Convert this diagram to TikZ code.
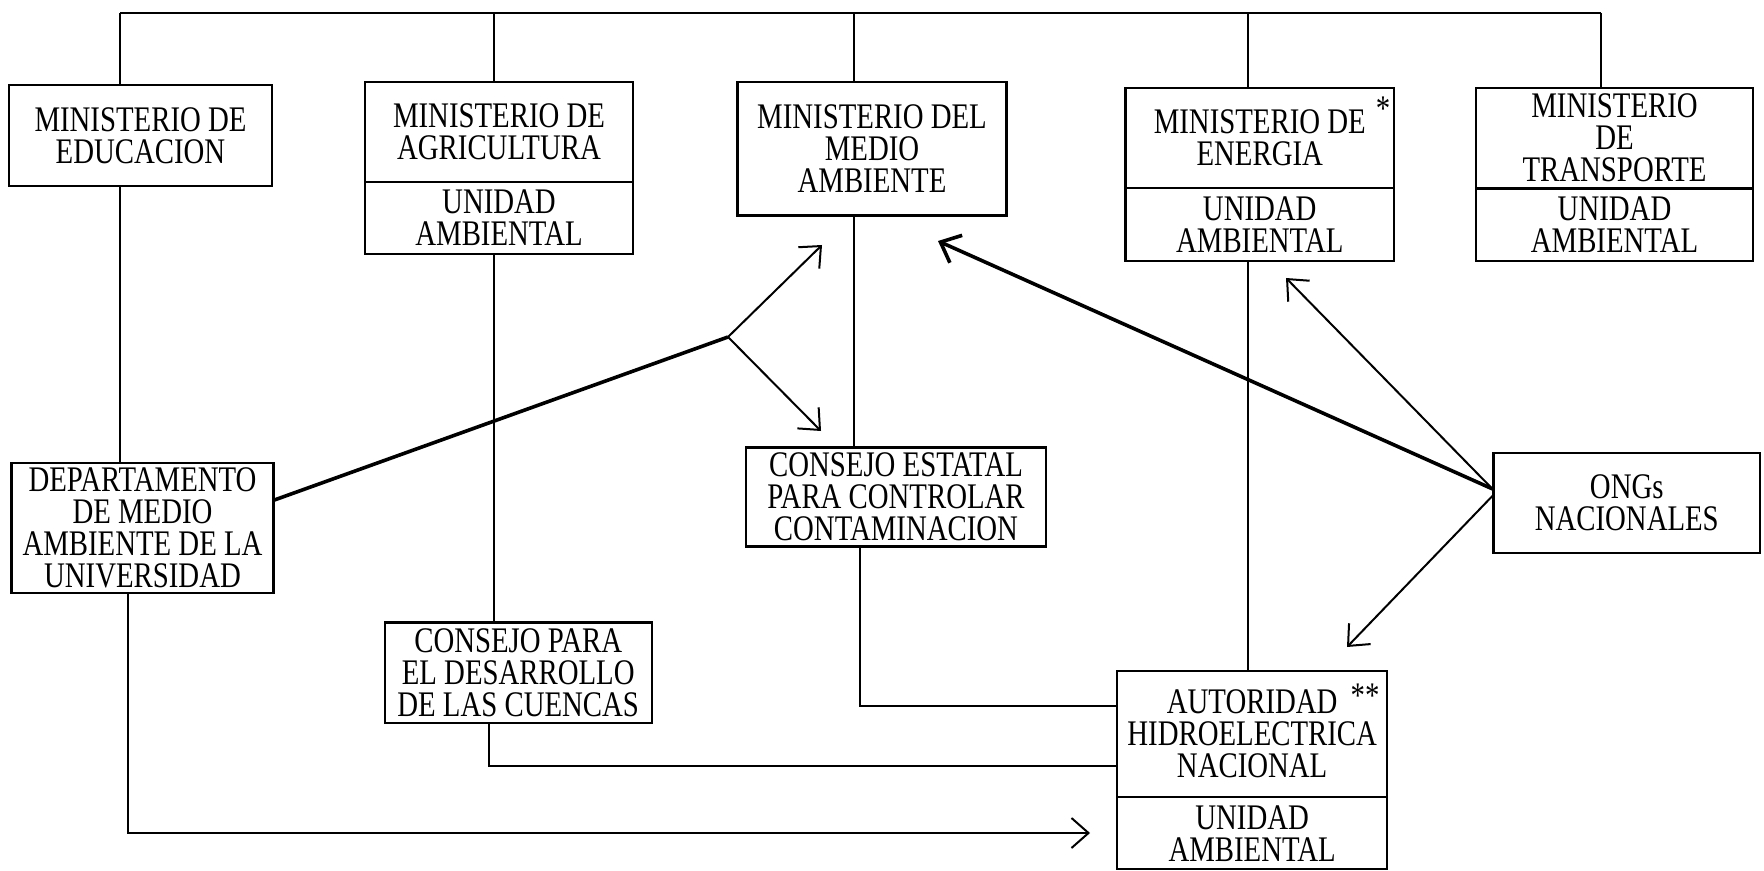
\documentclass[tikz,border=0pt]{standalone}
\usepackage{fontspec}
\setmainfont{Liberation Serif}[FakeStretch=0.8]
\usetikzlibrary{arrows.meta,calc}
\tikzset{
  box/.style={draw, line width=1.1pt, inner sep=0pt, align=center,
    font=\fontsize{18}{16}\selectfont},
  starnote/.style={inner sep=0pt, anchor=north, font=\fontsize{18}{18}\selectfont},
  link/.style={line width=1pt},
  heavy/.style={line width=1.8pt},
  barb/.style={-{Straight Barb[length=8.5pt,width=15pt]}},
}
\begin{document}
\begin{tikzpicture}[x=0.5pt, y=-0.5pt]
\useasboundingbox (0,0) rectangle (1764,871);

% ministries (upper row)
\node[box, minimum width=131.5pt, minimum height=50.5pt] (edu) at (140.5,135.5) {MINISTERIO DE\\EDUCACION};
\node[box, minimum width=134pt, minimum height=50pt] (agri) at (499,132) {MINISTERIO DE\\AGRICULTURA};
\node[box, minimum width=134pt, minimum height=36pt] (agriU) at (499,218) {UNIDAD\\AMBIENTAL};
\node[box, minimum width=134.5pt, minimum height=66.75pt] (ma) at (872,148.75) {MINISTERIO DEL\\MEDIO\\AMBIENTE};
\node[box, minimum width=134.25pt, minimum height=50pt] (ene) at (1259.75,138) {MINISTERIO DE\\ENERGIA};
\node[box, minimum width=134.25pt, minimum height=36.5pt] (eneU) at (1259.75,224.5) {UNIDAD\\AMBIENTAL};
\node[box, minimum width=138.5pt, minimum height=50.25pt] (tra) at (1614.5,138.25) {MINISTERIO\\DE\\TRANSPORTE};
\node[box, minimum width=138.5pt, minimum height=36.25pt] (traU) at (1614.5,224.75) {UNIDAD\\AMBIENTAL};
\node[starnote] (eneStar) at (1383,97) {*};

% other bodies
\node[box, minimum width=131pt, minimum height=65pt] (dep) at (142.5,528) {DEPARTAMENTO\\DE MEDIO\\AMBIENTE DE LA\\UNIVERSIDAD};
\node[box, minimum width=150pt, minimum height=49.5pt] (ce) at (896,497) {CONSEJO ESTATAL\\PARA CONTROLAR\\CONTAMINACION};
\node[box, minimum width=133.25pt, minimum height=50pt] (ong) at (1626.75,503) {ONGs\\NACIONALES};
\node[box, minimum width=133.5pt, minimum height=50.25pt] (cue) at (518.2,672.75) {CONSEJO PARA\\EL DESARROLLO\\DE LAS CUENCAS};
\node[box, minimum width=135.15pt, minimum height=63.3pt] (aut) at (1252.15,734) {AUTORIDAD\\HIDROELECTRICA\\NACIONAL};
\node[box, minimum width=135.15pt, minimum height=36pt] (autU) at (1252.15,833.3) {UNIDAD\\AMBIENTAL};
\node[starnote] (autStar) at (1365,684) {**};

% top bus
\coordinate (t1) at (120,13);
\coordinate (t2) at (494,13);
\coordinate (t3) at (853.5,13);
\coordinate (t4) at (1247.5,13);
\coordinate (t5) at (1600.5,13);
\draw[link] (t1) -- (t5);
\draw[link] (t1) -- (t1 |- edu.north);
\draw[link] (t2) -- (t2 |- agri.north);
\draw[link] (t3) -- (t3 |- ma.north);
\draw[link] (t4) -- (t4 |- ene.north);
\draw[link] (t5) -- (t5 |- tra.north);

% vertical links down the columns
\draw[link] (t1 |- edu.south) -- (t1 |- dep.north);
\draw[link] (t2 |- agriU.south) -- (t2 |- cue.north);
\draw[link] (t3 |- ma.south) -- (t3 |- ce.north);
\draw[link] (t4 |- eneU.south) -- (t4 |- aut.north);

% links into the hydroelectric authority
\coordinate (c1) at (488.5,766);
\coordinate (c2) at (860,706);
\draw[link] (c2 |- ce.south) -- (c2) -- (c2 -| aut.west);
\draw[link] (c1 |- cue.south) -- (c1) -- (c1 -| aut.west);
\coordinate (d1) at (127.5,833);
\coordinate (tipAutU) at (1090,833);
\draw[link, barb] (d1 |- dep.south) -- (d1) -- (tipAutU);

% university department branch
\coordinate (br) at (728,337);
\coordinate (tipMa) at (822,245);
\coordinate (tipCe) at (821,431);
\draw[heavy] (dep.12) -- (br);
\draw[link, barb] (br) -- (tipMa);
\draw[link, barb] (br) -- (tipCe);

% NGO influence
\coordinate (tipMa2) at (938,241);
\coordinate (tipEne) at (1286,278);
\coordinate (tipAut) at (1347,647);
\draw[heavy, barb] (ong.174) -- (tipMa2);
\draw[link, barb] (ong.174) -- (tipEne);
\draw[link, barb] (ong.177) -- (tipAut);
\end{tikzpicture}
\end{document}
